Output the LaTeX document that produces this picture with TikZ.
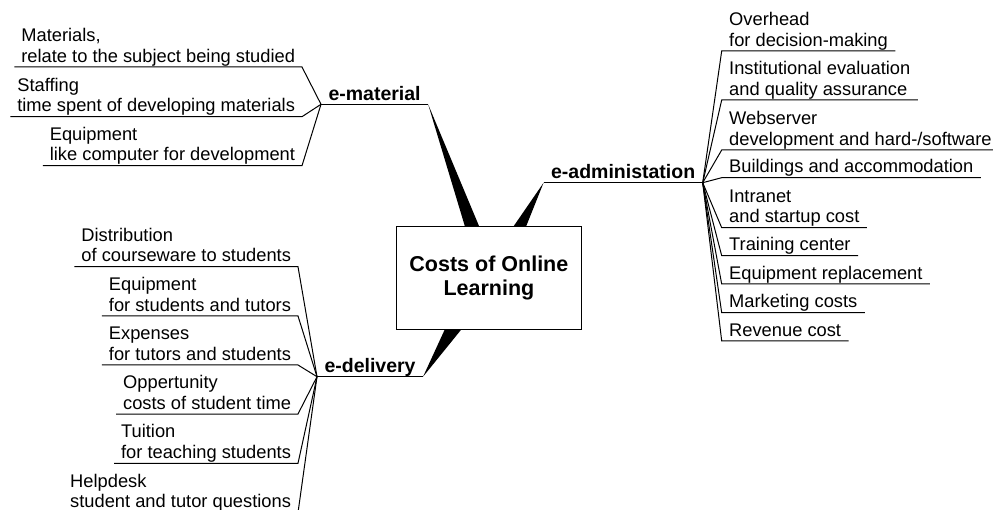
\documentclass[tikz,border=0pt]{standalone}
\usepackage{fontspec}
\setmainfont{Liberation Sans}
\newcommand\itemfont{\fontsize{18.3}{20.7}\selectfont}
\newcommand\hubfont{\fontsize{19.5}{22}\selectfont\bfseries}
\newcommand\titlefont{\fontsize{21.5}{23.3}\selectfont\bfseries}
% two stacked lines whose baseline is the lower one
\newcommand\lns[2]{\vbox{\hbox{#1}\hbox{#2}}}
\begin{document}
\begin{tikzpicture}[x=1pt,y=-1pt,
  itm/.style={font=\itemfont, inner xsep=7pt, inner ysep=0pt, outer sep=0pt, text depth=4.8pt},
  lft/.style={itm, anchor=south east},
  rgt/.style={itm, inner xsep=7.5pt, anchor=south west},
  hub/.style={font=\hubfont, inner xsep=7.5pt, inner ysep=0pt, outer sep=0pt, text depth=4pt},
  ln/.style={line width=1pt, black},
  wedge/.style={fill=black, draw=none},
  title/.style={draw, fill=white, line width=1pt, minimum width=185.7pt, minimum height=102.3pt,
    inner sep=0pt, align=center, font=\titlefont}]
\useasboundingbox (0,0) rectangle (993,510);

% branch labels
\node[hub, anchor=south west] (mat) at (321,104.3) {e-material};
\node[hub, anchor=south east] (adm) at (702.7,182.7) {e-administation};
\node[hub, anchor=south west] (del) at (317,376.7) {e-delivery};

% centre box position (drawn later, on top of the wedges)
\coordinate (bnw) at (396,226.7);
\coordinate (bsw) at (396,329);

% tapered wedges from the centre box to the branch labels
\fill[wedge] (mat.south east) -- ([xshift=69pt]bnw) -- ([xshift=83.3pt]bnw) -- cycle;
\fill[wedge] (adm.south west) -- ([xshift=117.3pt]bnw) -- ([xshift=130pt]bnw) -- cycle;
\fill[wedge] (del.south east) -- ([xshift=49pt]bsw) -- ([xshift=65.7pt]bsw) -- cycle;

\node[title] (box) at (488.9,277.9) {Costs of Online\\Learning};

% underlines of the branch labels
\foreach \n in {mat,adm,del} \draw[ln] (\n.south west) -- (\n.south east);

% e-material items
\node[lft] (m1) at (302,67)    {\lns{Materials,}{relate to the subject being studied}};
\node[lft] (m2) at (302,116.7) {\lns{Staffing}{time spent of developing materials}};
\node[lft] (m3) at (302,165.7) {\lns{Equipment}{like computer for development}};
\foreach \n in {m1,m2,m3} {
  \draw[ln] (\n.south west) -- (\n.south east) -- (mat.south west);
}

% e-delivery items
\node[lft] (d1) at (298,266.7) {\lns{Distribution}{of courseware to students}};
\node[lft] (d2) at (298,316)   {\lns{Equipment}{for students and tutors}};
\node[lft] (d3) at (298,365)   {\lns{Expenses}{for tutors and students}};
\node[lft] (d4) at (298,414)   {\lns{Oppertunity}{costs of student time}};
\node[lft] (d5) at (298,463.3) {\lns{Tuition}{for teaching students}};
\node[lft] (d6) at (298,512.6) {\lns{Helpdesk}{student and tutor questions}};
\foreach \n in {d1,d2,d3,d4,d5,d6} {
  \draw[ln] (\n.south west) -- (\n.south east) -- (del.south west);
}

% e-administation items
\node[rgt] (a1) at (721.7,51)    {\lns{Overhead}{for decision-making}};
\node[rgt] (a2) at (721.7,100)   {\lns{Institutional evaluation}{and quality assurance}};
\node[rgt] (a3) at (721.7,150)   {\lns{Webserver}{development and hard-/software}};
\node[rgt] (a4) at (721.7,177.7) {Buildings and accommodation};
\node[rgt] (a5) at (721.7,227.7) {\lns{Intranet}{and startup cost}};
\node[rgt] (a6) at (721.7,255.7) {Training center};
\node[rgt] (a7) at (721.7,284)   {Equipment replacement};
\node[rgt] (a8) at (721.7,312.7) {Marketing costs};
\node[rgt] (a9) at (721.7,341)   {Revenue cost};
\foreach \n in {a1,a2,a3,a4,a5,a6,a7,a8,a9} {
  \draw[ln] (adm.south east) -- (\n.south west) -- (\n.south east);
}
\end{tikzpicture}
\end{document}
